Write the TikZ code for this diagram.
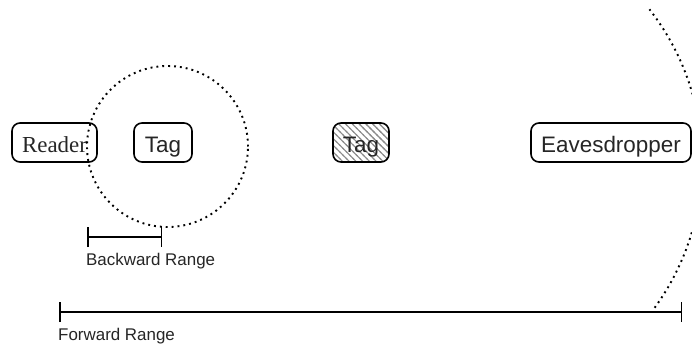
\documentclass[tikz,border=0pt]{standalone}
\usepackage{fontspec}
\setmainfont{Liberation Serif}
\newfontfamily\arialf{Liberation Sans}
\usetikzlibrary{arrows.meta,patterns.meta}
\tikzdeclarepattern{
  name=myhatch, type=uncolored,
  bounding box={(-1pt,-1pt) and (6pt,6pt)},
  tile size={(4.8pt,4.8pt)},
  tile transformation={rotate=-45},
  code={\draw[line width=1.1pt] (-1pt,2.4pt) -- (6pt,2.4pt);}
}
\tikzset{
  box/.style={draw, line width=1.6bp, rounded corners=8bp, minimum height=39bp, inner sep=0pt, text=black!85, text height=24bp, text depth=4bp},
  sansbox/.style={box, font=\arialf\fontsize{22.5}{26}\selectfont},
  serifbox/.style={box, font=\fontsize{23}{27}\selectfont},
  dotline/.style={line width=1.9bp, dash pattern=on 1.9bp off 4bp},
  rangebar/.style={line width=1.3bp, {Bar[width=20bp,line width=1.5bp]}-{Bar[width=20bp,line width=1.5bp]}},
  rangelabel/.style={font=\arialf\fontsize{17}{20}\selectfont, anchor=base west, inner sep=0pt, text=black!85}
}
\begin{document}
\begin{tikzpicture}[x=1bp,y=1bp]
\useasboundingbox (0,0) rectangle (692,343);
\clip (0,0) rectangle (692,343);
\fill[white] (0,0) rectangle (692,343);
% nodes
\node[serifbox, minimum width=85bp] (reader) at (54.5,200.5) {Reader};
\node[sansbox, minimum width=58bp] (tag) at (163,200.5) {Tag};
\node[sansbox, minimum width=56bp, pattern={myhatch}, pattern color=black!45] (tag2) at (361,200.5) {};
\node[font=\arialf\fontsize{22.5}{26}\selectfont, text=black!85, inner sep=0pt, text height=24bp, text depth=4bp] (tag2t) at (tag2) {Tag};
\node[sansbox, minimum width=160bp] (eaves) at (611,200.5) {Eavesdropper};
% small range circle
\coordinate (smallc) at (167.5,196.5);
\draw[dotline] (smallc) circle[radius=80.5];
% big range arc
\coordinate (bigc) at (454,181);
\draw[dotline] ([shift={(-36:248)}]bigc) arc[start angle=-36, end angle=38, radius=248];
% backward range
\coordinate (b1) at (87,106);
\coordinate (b2) at (162,106);
\draw[rangebar] (b1) -- (b2);
\node[rangelabel] (blabel) at (86,78) {Backward Range};
% forward range
\coordinate (f1) at (59,31);
\coordinate (f2) at (682,31);
\draw[rangebar] (f1) -- (f2);
\node[rangelabel] (flabel) at (58,3) {Forward Range};
\end{tikzpicture}
\end{document}
